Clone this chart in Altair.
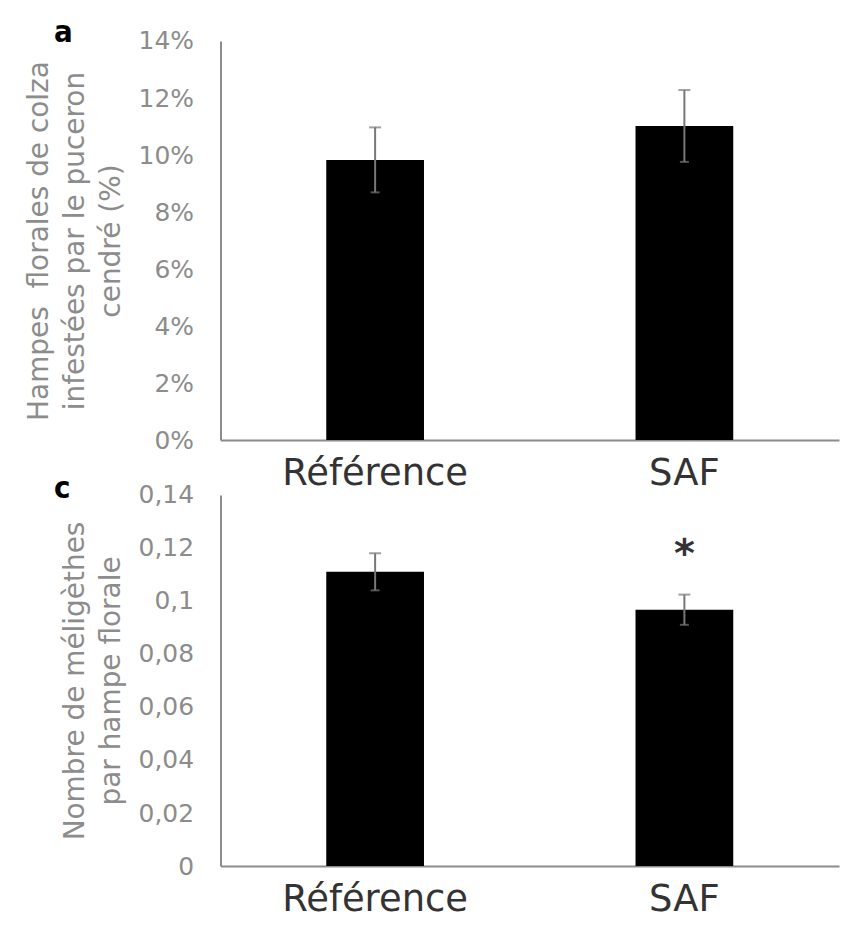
import altair as alt
import pandas as pd

categories = ["Référence", "SAF"]
aphid_mean = [0.0983, 0.1102]
aphid_err = [0.0114, 0.0126]
meli_mean = [0.1110, 0.0967]
meli_err = [0.0070, 0.0057]
signif = ["", "*"]

aphid_ticks = [0, 0.02, 0.04, 0.06, 0.08, 0.10, 0.12, 0.14]
meli_ticks = [0, 0.02, 0.04, 0.06, 0.08, 0.10, 0.12, 0.14]

df_a = pd.DataFrame({"cat": categories, "mean": aphid_mean, "err": aphid_err, "sig": ["", ""]})
df_c = pd.DataFrame({"cat": categories, "mean": meli_mean, "err": meli_err, "sig": signif})

GRAY = "#8c8c8c"
FONT = "DejaVu Sans"


def panel(df, letter, title_lines, ticks, label_expr, height, letter_dy):
    xscale = alt.Scale(paddingInner=0.684, paddingOuter=0.342)
    x = alt.X("cat:N", sort=categories, scale=xscale,
              axis=alt.Axis(title=None, labelAngle=0, labelFont=FONT, labelFontSize=37,
                            labelColor="#333333", labelPadding=16, labelLimit=0, ticks=False,
                            domainColor=GRAY, domainWidth=2))
    yscale = alt.Scale(domain=[0, 0.14], nice=False)
    yaxis = alt.Axis(title=title_lines, values=ticks, labelExpr=label_expr, grid=False,
                     ticks=False, labelFont=FONT, labelFontSize=25, labelColor=GRAY,
                     labelPadding=27, domainColor=GRAY, domainWidth=2,
                     titleFont=FONT, titleFontSize=28, titleFontWeight="normal",
                     titleColor=GRAY, titleLineHeight=36, titlePadding=13)
    base = alt.Chart(df).transform_calculate(
        lo="datum.mean - datum.err", hi="datum.mean + datum.err")
    bars = base.mark_bar(color="black").encode(
        x=x, y=alt.Y("mean:Q", scale=yscale, axis=yaxis))
    rule = base.mark_rule(color="#777777", strokeWidth=2).encode(
        x=alt.X("cat:N", sort=categories), y="lo:Q", y2="hi:Q")
    cap_hi = base.mark_tick(color="#777777", thickness=2, size=12).encode(
        x=alt.X("cat:N", sort=categories), y="hi:Q")
    cap_lo = base.mark_tick(color="#777777", thickness=2, size=9).encode(
        x=alt.X("cat:N", sort=categories), y="lo:Q")
    star = base.mark_text(fontSize=40, font=FONT, fontWeight="bold", color="#333333",
                          baseline="middle", dy=-40).encode(
        x=alt.X("cat:N", sort=categories), y="hi:Q", text="sig:N")
    return alt.layer(bars, rule, cap_hi, cap_lo, star).properties(
        width=620, height=height,
        title=alt.TitleParams(letter, anchor="start", frame="group", dx=-167,
                              dy=letter_dy, offset=0, baseline="alphabetic",
                              fontSize=31, fontWeight="bold",
                              font="DejaVu Sans Condensed", color="black"))


pa = panel(df_a, "a", ["Hampes\u00a0 florales de colza", "infestées par le puceron", "cendré (%)"],
           aphid_ticks, "format(datum.value, '.0%')", 400, 44)
pc = panel(df_c, "c", ["Nombre de méligèthes", "par hampe florale"],
           meli_ticks, "replace(format(datum.value, '~g'), '.', ',')", 372, 46)

chart = alt.vconcat(pa, pc, spacing=55, bounds="flush").properties(
    padding={"left": 17, "top": 8, "right": 5, "bottom": 5}
).configure_view(stroke=None)

chart.save("out.html", embed_options={"renderer": "svg", "actions": False})
